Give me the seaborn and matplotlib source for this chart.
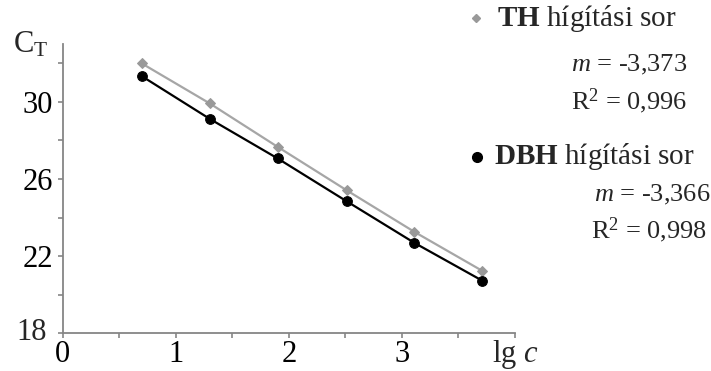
import matplotlib
matplotlib.use("Agg")
import matplotlib.pyplot as plt
import seaborn as sns
import numpy as np
import pandas as pd

# ---- data ----
lg_c = [0.70, 1.30, 1.90, 2.51, 3.11, 3.71]
ct_th = [31.99, 29.92, 27.67, 25.42, 23.26, 21.24]
ct_dbh = [31.33, 29.12, 27.07, 24.85, 22.69, 20.73]
x_tick_labels = ["0", "1", "2", "3"]
y_tick_labels = ["18", "22", "26", "30"]
th_label = ["TH", " hígítási sor", "-3,373", "0,996"]
dbh_label = ["DBH", " hígítási sor", "-3,366", "0,998"]

sns.set_theme(style="white")
plt.rcParams["font.family"] = ["Liberation Serif", "DejaVu Serif"]
plt.rcParams["mathtext.fontset"] = "custom"
plt.rcParams["mathtext.rm"] = "Liberation Serif"
plt.rcParams["mathtext.it"] = "Liberation Serif:italic"
plt.rcParams["mathtext.bf"] = "Liberation Serif:bold"

W, H = 711, 371
fig = plt.figure(figsize=(W / 100, H / 100), dpi=100)
ax = fig.add_axes([62.7 / W, 1 - 333.3 / H, (515 - 62.7) / W, (333.3 - 44) / H])

df_th = pd.DataFrame({"x": lg_c, "y": ct_th})
df_dbh = pd.DataFrame({"x": lg_c, "y": ct_dbh})
sns.lineplot(data=df_th, x="x", y="y", ax=ax, color="#a6a6a6", lw=1.6,
             marker="D", markersize=5, markerfacecolor="#999999",
             markeredgecolor="#999999", zorder=3)
sns.lineplot(data=df_dbh, x="x", y="y", ax=ax, color="black", lw=1.6,
             marker="o", markersize=7, markerfacecolor="black",
             markeredgecolor="black", zorder=4)

ax.set_xlim(0, 4)
ax.set_ylim(18, 33)
ax.set_xlabel("")
ax.set_ylabel("")
gray = "#868686"
for s in ["top", "right"]:
    ax.spines[s].set_visible(False)
for s in ["left", "bottom"]:
    ax.spines[s].set_color(gray)
    ax.spines[s].set_linewidth(1.3)

tfs = 22
ax.set_xticks([0, 1, 2, 3, 4])
ax.set_xticklabels(x_tick_labels + [""])
ax.set_xticks([0.5, 1.5, 2.5, 3.5], minor=True)
ax.set_yticks([18, 22, 26, 30])
ax.set_yticklabels([""] + y_tick_labels[1:])
ax.set_yticks([20, 24, 28, 32], minor=True)
ax.tick_params(which="both", direction="out", length=3.6, width=1.2, color=gray,
               labelsize=tfs, labelcolor="black", bottom=True, left=True)
ax.tick_params(axis="x", pad=1.5)
ax.tick_params(axis="y", pad=3.5)

def px(x, y):
    return x / W, 1 - y / H

# lowest y label sits a bit left, as in the reference
fig.text(*px(47, 332), y_tick_labels[0], fontsize=tfs, ha="right", va="center")
# x-axis title in place of the last tick label
fig.text(*px(515, 362), "lg $c$", fontsize=tfs, ha="center", va="baseline")
# y-axis title at top
fig.text(*px(13, 45), r"C$_\mathrm{T}$", fontsize=tfs, ha="left", va="center")

hfs = 21
fs = 19
lx, ly = px(476, 18)
fig.add_artist(plt.Line2D([lx], [ly], marker="D", markersize=4.5,
                          color="#999999", linestyle="none"))
fig.text(*px(497, 19), r"$\mathbf{%s}$%s" % (th_label[0], th_label[1]), fontsize=hfs,
         ha="left", va="center")
fig.text(*px(687, 65), r"$m$ = %s" % th_label[2], fontsize=fs, ha="right", va="center")
fig.text(*px(687, 101), r"R$^2$ = %s" % th_label[3], fontsize=fs, ha="right", va="center")

lx, ly = px(477, 157)
fig.add_artist(plt.Line2D([lx], [ly], marker="o", markersize=7,
                          color="black", linestyle="none"))
fig.text(*px(494, 157), r"$\mathbf{%s}$%s" % (dbh_label[0], dbh_label[1]), fontsize=hfs,
         ha="left", va="center")
fig.text(*px(710, 195), r"$m$ = %s" % dbh_label[2], fontsize=fs, ha="right", va="center")
fig.text(*px(707, 230), r"R$^2$ = %s" % dbh_label[3], fontsize=fs, ha="right", va="center")

fig.savefig("out.png", dpi=100)
